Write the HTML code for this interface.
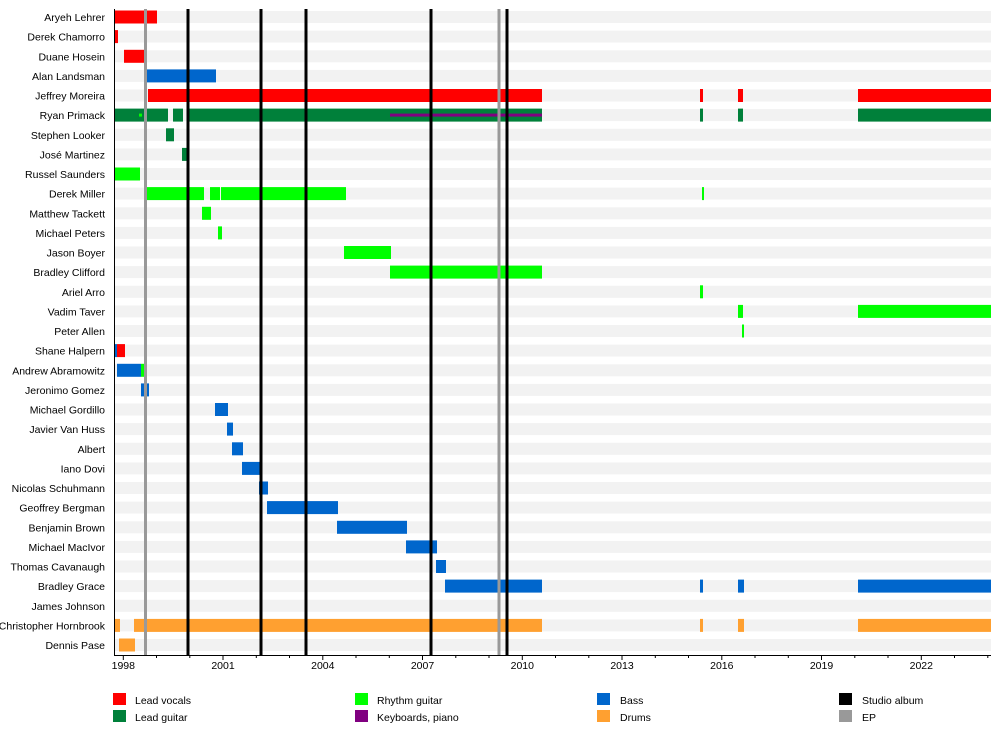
<!DOCTYPE html>
<html><head><meta charset="utf-8"><style>
html,body{margin:0;padding:0;background:#fff}
text{font-family:"Liberation Sans",sans-serif;font-size:10.5px;fill:#000}
</style></head><body>
<svg width="1000" height="730" xmlns="http://www.w3.org/2000/svg">
<g fill="#f2f2f2">
<rect x="114" y="11" width="877" height="12"/><rect x="114" y="30.6" width="877" height="12"/><rect x="114" y="50.3" width="877" height="12"/><rect x="114" y="69.9" width="877" height="12"/><rect x="114" y="89.5" width="877" height="12"/><rect x="114" y="109.1" width="877" height="12"/><rect x="114" y="128.8" width="877" height="12"/><rect x="114" y="148.4" width="877" height="12"/><rect x="114" y="168" width="877" height="12"/><rect x="114" y="187.6" width="877" height="12"/><rect x="114" y="207.3" width="877" height="12"/><rect x="114" y="226.9" width="877" height="12"/><rect x="114" y="246.5" width="877" height="12"/><rect x="114" y="266.1" width="877" height="12"/><rect x="114" y="285.8" width="877" height="12"/><rect x="114" y="305.4" width="877" height="12"/><rect x="114" y="325" width="877" height="12"/><rect x="114" y="344.6" width="877" height="12"/><rect x="114" y="364.3" width="877" height="12"/><rect x="114" y="383.9" width="877" height="12"/><rect x="114" y="403.5" width="877" height="12"/><rect x="114" y="423.1" width="877" height="12"/><rect x="114" y="442.8" width="877" height="12"/><rect x="114" y="462.4" width="877" height="12"/><rect x="114" y="482" width="877" height="12"/><rect x="114" y="501.6" width="877" height="12"/><rect x="114" y="521.3" width="877" height="12"/><rect x="114" y="540.9" width="877" height="12"/><rect x="114" y="560.5" width="877" height="12"/><rect x="114" y="580.1" width="877" height="12"/><rect x="114" y="599.8" width="877" height="12"/><rect x="114" y="619.4" width="877" height="12"/><rect x="114" y="639" width="877" height="12"/>
</g>
<g>
<!-- Aryeh -->
<rect x="114" y="10.5" width="43" height="13" fill="#ff0000"/>
<!-- Derek Chamorro -->
<rect x="115" y="30.1" width="3" height="13" fill="#ff0000"/>
<!-- Duane -->
<rect x="124" y="49.8" width="22" height="13" fill="#ff0000"/>
<!-- Alan -->
<rect x="145" y="69.4" width="2" height="13" fill="#ff0000"/>
<rect x="147" y="69.4" width="69" height="13" fill="#0066cc"/>
<!-- Jeffrey -->
<rect x="148" y="89" width="394" height="13" fill="#ff0000"/>
<rect x="700" y="89" width="3" height="13" fill="#ff0000"/>
<rect x="738" y="89" width="5" height="13" fill="#ff0000"/>
<rect x="858" y="89" width="133" height="13" fill="#ff0000"/>
<!-- Ryan -->
<rect x="114" y="108.6" width="54" height="13" fill="#00803a"/>
<rect x="139" y="113.6" width="3" height="3" fill="#00ff00"/>
<rect x="173" y="108.6" width="10" height="13" fill="#00803a"/>
<rect x="187" y="108.6" width="355" height="13" fill="#00803a"/>
<rect x="390" y="113.6" width="152" height="3" fill="#800080"/>
<rect x="700" y="108.6" width="3" height="13" fill="#00803a"/>
<rect x="738" y="108.6" width="5" height="13" fill="#00803a"/>
<rect x="858" y="108.6" width="133" height="13" fill="#00803a"/>
<!-- Stephen -->
<rect x="166" y="128.3" width="8" height="13" fill="#00803a"/>
<!-- Jose -->
<rect x="182" y="147.9" width="6" height="13" fill="#00803a"/>
<!-- Russel -->
<rect x="114" y="167.5" width="26" height="13" fill="#00ff00"/>
<!-- Derek Miller -->
<rect x="144" y="187.1" width="60" height="13" fill="#00ff00"/>
<rect x="210" y="187.1" width="10" height="13" fill="#00ff00"/>
<rect x="221" y="187.1" width="125" height="13" fill="#00ff00"/>
<rect x="702" y="187.1" width="2" height="13" fill="#00ff00"/>
<!-- Matthew -->
<rect x="202" y="206.8" width="9" height="13" fill="#00ff00"/>
<!-- Michael Peters -->
<rect x="218" y="226.4" width="4" height="13" fill="#00ff00"/>
<!-- Jason -->
<rect x="344" y="246" width="47" height="13" fill="#00ff00"/>
<!-- Bradley Clifford -->
<rect x="390" y="265.6" width="152" height="13" fill="#00ff00"/>
<!-- Ariel -->
<rect x="700" y="285.3" width="3" height="13" fill="#00ff00"/>
<!-- Vadim -->
<rect x="738" y="304.9" width="5" height="13" fill="#00ff00"/>
<rect x="858" y="304.9" width="133" height="13" fill="#00ff00"/>
<!-- Peter Allen -->
<rect x="742" y="324.5" width="2" height="13" fill="#00ff00"/>
<!-- Shane -->
<rect x="114" y="344.1" width="3" height="13" fill="#0066cc"/>
<rect x="117" y="344.1" width="8" height="13" fill="#ff0000"/>
<!-- Andrew -->
<rect x="117" y="363.8" width="24" height="13" fill="#0066cc"/>
<rect x="141" y="363.8" width="5" height="13" fill="#00ff00"/>
<!-- Jeronimo -->
<rect x="141" y="383.4" width="8" height="13" fill="#0066cc"/>
<!-- Gordillo -->
<rect x="215" y="403" width="13" height="13" fill="#0066cc"/>
<!-- Javier -->
<rect x="227" y="422.6" width="6" height="13" fill="#0066cc"/>
<!-- Albert -->
<rect x="232" y="442.3" width="11" height="13" fill="#0066cc"/>
<!-- Iano -->
<rect x="242" y="461.9" width="19" height="13" fill="#0066cc"/>
<!-- Nicolas -->
<rect x="259" y="481.5" width="9" height="13" fill="#0066cc"/>
<!-- Geoffrey -->
<rect x="267" y="501.1" width="71" height="13" fill="#0066cc"/>
<!-- Benjamin -->
<rect x="337" y="520.8" width="70" height="13" fill="#0066cc"/>
<!-- MacIvor -->
<rect x="406" y="540.4" width="31" height="13" fill="#0066cc"/>
<!-- Thomas -->
<rect x="436" y="560" width="10" height="13" fill="#0066cc"/>
<!-- Bradley Grace -->
<rect x="445" y="579.6" width="97" height="13" fill="#0066cc"/>
<rect x="700" y="579.6" width="3" height="13" fill="#0066cc"/>
<rect x="738" y="579.6" width="6" height="13" fill="#0066cc"/>
<rect x="858" y="579.6" width="133" height="13" fill="#0066cc"/>
<!-- Christopher -->
<rect x="114" y="618.9" width="6" height="13" fill="#ffa030"/>
<rect x="134" y="618.9" width="408" height="13" fill="#ffa030"/>
<rect x="700" y="618.9" width="3" height="13" fill="#ffa030"/>
<rect x="738" y="618.9" width="6" height="13" fill="#ffa030"/>
<rect x="858" y="618.9" width="133" height="13" fill="#ffa030"/>
<!-- Dennis -->
<rect x="119" y="638.5" width="16" height="13" fill="#ffa030"/>
</g>
<!-- event lines -->
<g stroke-width="3">
<line x1="145.5" y1="9" x2="145.5" y2="655" stroke="#999"/>
<line x1="499" y1="9" x2="499" y2="655" stroke="#999"/>
<line x1="188" y1="9" x2="188" y2="655" stroke="#000"/>
<line x1="261" y1="9" x2="261" y2="655" stroke="#000"/>
<line x1="306" y1="9" x2="306" y2="655" stroke="#000"/>
<line x1="431" y1="9" x2="431" y2="655" stroke="#000"/>
<line x1="507" y1="9" x2="507" y2="655" stroke="#000"/>
</g>
<!-- axes -->
<line x1="114.5" y1="9" x2="114.5" y2="655.5" stroke="#000" stroke-width="1"/>
<line x1="114" y1="655.5" x2="991" y2="655.5" stroke="#000" stroke-width="1"/>
<g stroke="#000" stroke-width="1">
<line x1="123.3" y1="655" x2="123.3" y2="660"/><line x1="156.5" y1="655" x2="156.5" y2="658"/><line x1="189.8" y1="655" x2="189.8" y2="658"/>
<line x1="223" y1="655" x2="223" y2="660"/><line x1="256.3" y1="655" x2="256.3" y2="658"/><line x1="289.5" y1="655" x2="289.5" y2="658"/>
<line x1="322.8" y1="655" x2="322.8" y2="660"/><line x1="356" y1="655" x2="356" y2="658"/><line x1="389.3" y1="655" x2="389.3" y2="658"/>
<line x1="422.5" y1="655" x2="422.5" y2="660"/><line x1="455.8" y1="655" x2="455.8" y2="658"/><line x1="489" y1="655" x2="489" y2="658"/>
<line x1="522.3" y1="655" x2="522.3" y2="660"/><line x1="555.5" y1="655" x2="555.5" y2="658"/><line x1="588.8" y1="655" x2="588.8" y2="658"/>
<line x1="622" y1="655" x2="622" y2="660"/><line x1="655.3" y1="655" x2="655.3" y2="658"/><line x1="688.5" y1="655" x2="688.5" y2="658"/>
<line x1="721.8" y1="655" x2="721.8" y2="660"/><line x1="755" y1="655" x2="755" y2="658"/><line x1="788.3" y1="655" x2="788.3" y2="658"/>
<line x1="821.5" y1="655" x2="821.5" y2="660"/><line x1="854.8" y1="655" x2="854.8" y2="658"/><line x1="888" y1="655" x2="888" y2="658"/>
<line x1="921.3" y1="655" x2="921.3" y2="660"/><line x1="954.5" y1="655" x2="954.5" y2="658"/><line x1="987.8" y1="655" x2="987.8" y2="658"/>
</g>
<g text-anchor="middle">
<text x="123.3" y="669">1998</text><text x="223" y="669">2001</text><text x="322.8" y="669">2004</text><text x="422.5" y="669">2007</text><text x="522.3" y="669">2010</text><text x="622" y="669">2013</text><text x="721.8" y="669">2016</text><text x="821.5" y="669">2019</text><text x="921.3" y="669">2022</text>
</g>
<g text-anchor="end">
<text x="105" y="21">Aryeh Lehrer</text>
<text x="105" y="40.6">Derek Chamorro</text>
<text x="105" y="60.3">Duane Hosein</text>
<text x="105" y="79.9">Alan Landsman</text>
<text x="105" y="99.5">Jeffrey Moreira</text>
<text x="105" y="119.1">Ryan Primack</text>
<text x="105" y="138.8">Stephen Looker</text>
<text x="105" y="158.4">José Martinez</text>
<text x="105" y="178">Russel Saunders</text>
<text x="105" y="197.6">Derek Miller</text>
<text x="105" y="217.3">Matthew Tackett</text>
<text x="105" y="236.9">Michael Peters</text>
<text x="105" y="256.5">Jason Boyer</text>
<text x="105" y="276.1">Bradley Clifford</text>
<text x="105" y="295.8">Ariel Arro</text>
<text x="105" y="315.4">Vadim Taver</text>
<text x="105" y="335">Peter Allen</text>
<text x="105" y="354.6">Shane Halpern</text>
<text x="105" y="374.3">Andrew Abramowitz</text>
<text x="105" y="393.9">Jeronimo Gomez</text>
<text x="105" y="413.5">Michael Gordillo</text>
<text x="105" y="433.1">Javier Van Huss</text>
<text x="105" y="452.8">Albert</text>
<text x="105" y="472.4">Iano Dovi</text>
<text x="105" y="492">Nicolas Schuhmann</text>
<text x="105" y="511.6">Geoffrey Bergman</text>
<text x="105" y="531.3">Benjamin Brown</text>
<text x="105" y="550.9">Michael MacIvor</text>
<text x="105" y="570.5">Thomas Cavanaugh</text>
<text x="105" y="590.1">Bradley Grace</text>
<text x="105" y="609.8">James Johnson</text>
<text x="105" y="629.4">Christopher Hornbrook</text>
<text x="105" y="649">Dennis Pase</text>
</g>
<!-- legend -->
<rect x="113" y="693" width="13" height="12" fill="#ff0000"/><text x="135" y="704">Lead vocals</text>
<rect x="113" y="710" width="13" height="12" fill="#00803a"/><text x="135" y="721">Lead guitar</text>
<rect x="355" y="693" width="13" height="12" fill="#00ff00"/><text x="377" y="704">Rhythm guitar</text>
<rect x="355" y="710" width="13" height="12" fill="#800080"/><text x="377" y="721">Keyboards, piano</text>
<rect x="597" y="693" width="13" height="12" fill="#0066cc"/><text x="620" y="704">Bass</text>
<rect x="597" y="710" width="13" height="12" fill="#ffa030"/><text x="620" y="721">Drums</text>
<rect x="839" y="693" width="13" height="12" fill="#000"/><text x="862" y="704">Studio album</text>
<rect x="839" y="710" width="13" height="12" fill="#999"/><text x="862" y="721">EP</text>
</svg>
</body></html>
